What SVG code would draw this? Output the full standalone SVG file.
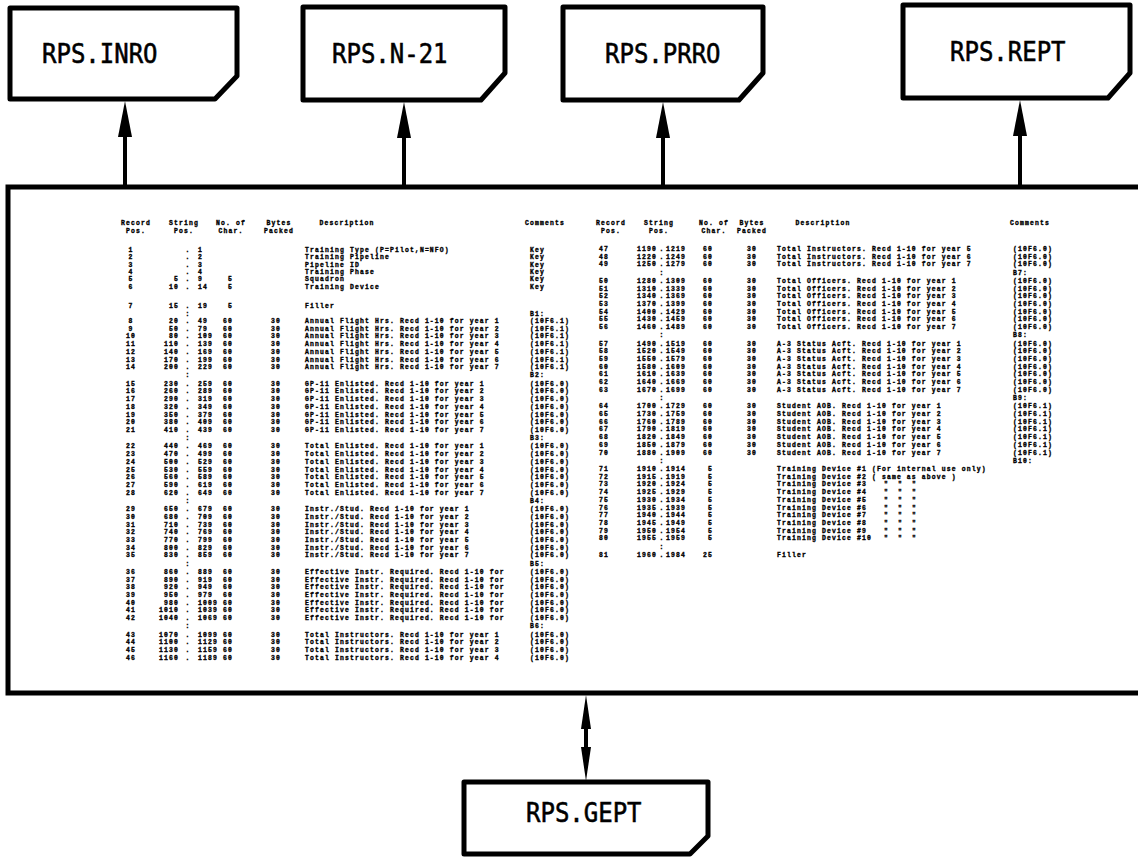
<svg xmlns="http://www.w3.org/2000/svg" width="1138" height="857" viewBox="0 0 1138 857">
<style>
.node path{fill:#fff;stroke:#000;stroke-width:5;stroke-linejoin:round}
.lbl{font-family:"DejaVu Sans Mono","Liberation Mono",monospace;font-size:24px;fill:#000;stroke:#000;stroke-width:0.5}
.frame{fill:none;stroke:#000;stroke-width:5}
.conn line{stroke:#000;stroke-width:4}
.t{font-family:"Liberation Mono","DejaVu Sans Mono",monospace;font-size:6.4px;letter-spacing:1.16px;font-weight:bold;fill:#000;stroke:#000;stroke-width:0.35}
.m{text-anchor:middle}
.e{text-anchor:end}
</style>
<defs>
<marker id="arr" markerUnits="userSpaceOnUse" markerWidth="36" markerHeight="14" refX="0" refY="7" orient="auto" viewBox="0 0 36 14"><path d="M0,0 L36,7 L0,14 Z" fill="#000"/></marker>
<marker id="arr2" markerUnits="userSpaceOnUse" markerWidth="34" markerHeight="10" refX="0" refY="5" orient="auto-start-reverse" viewBox="0 0 34 10"><path d="M0,0 L34,5 L0,10 Z" fill="#000"/></marker>
</defs>
<rect width="1138" height="857" fill="#fff"/>

<g id="table-box">
<path class="frame" d="M1150,187 H8 V693 H1150"/>
<g class="t">
<text y="225"><tspan class="m" x="136">Record</tspan><tspan class="m" x="184">String</tspan><tspan class="m" x="231">No. of</tspan><tspan class="m" x="279">Bytes</tspan><tspan class="m" x="347">Description</tspan><tspan class="m" x="545">Comments</tspan><tspan class="m" x="611">Record</tspan><tspan class="m" x="659">String</tspan><tspan class="m" x="714">No. of</tspan><tspan class="m" x="752">Bytes</tspan><tspan class="m" x="823">Description</tspan><tspan class="m" x="1030">Comments</tspan></text>
<text y="233"><tspan class="m" x="136">Pos.</tspan><tspan class="m" x="184">Pos.</tspan><tspan class="m" x="231">Char.</tspan><tspan class="m" x="279">Packed</tspan><tspan class="m" x="611">Pos.</tspan><tspan class="m" x="659">Pos.</tspan><tspan class="m" x="714">Char.</tspan><tspan class="m" x="752">Packed</tspan></text>
<text y="252"><tspan class="m" x="131">1</tspan><tspan x="185.5">.</tspan><tspan x="198">1</tspan><tspan x="305">Training Type (P=Pilot,N=NFO)</tspan><tspan x="530">Key</tspan></text>
<text y="259.3"><tspan class="m" x="131">2</tspan><tspan x="185.5">.</tspan><tspan x="198">2</tspan><tspan x="305">Training Pipeline</tspan><tspan x="530">Key</tspan></text>
<text y="266.6"><tspan class="m" x="131">3</tspan><tspan x="185.5">.</tspan><tspan x="198">3</tspan><tspan x="305">Pipeline ID</tspan><tspan x="530">Key</tspan></text>
<text y="273.9"><tspan class="m" x="131">4</tspan><tspan x="185.5">.</tspan><tspan x="198">4</tspan><tspan x="305">Training Phase</tspan><tspan x="530">Key</tspan></text>
<text y="281.2"><tspan class="m" x="131">5</tspan><tspan class="e" x="179">5</tspan><tspan x="185.5">.</tspan><tspan x="198">9</tspan><tspan class="e" x="233">5</tspan><tspan x="305">Squadron</tspan><tspan x="530">Key</tspan></text>
<text y="288.5"><tspan class="m" x="131">6</tspan><tspan class="e" x="179">10</tspan><tspan x="185.5">.</tspan><tspan x="198">14</tspan><tspan class="e" x="233">5</tspan><tspan x="305">Training Device</tspan><tspan x="530">Key</tspan></text>
<text y="308"><tspan class="m" x="131">7</tspan><tspan class="e" x="179">15</tspan><tspan x="185.5">.</tspan><tspan x="198">19</tspan><tspan class="e" x="233">5</tspan><tspan x="305">Filler</tspan></text>
<text y="315.5"><tspan x="185.5">:</tspan><tspan x="530">B1:</tspan></text>
<text y="323"><tspan class="m" x="131">8</tspan><tspan class="e" x="179">20</tspan><tspan x="185.5">.</tspan><tspan x="198">49</tspan><tspan class="e" x="233">60</tspan><tspan class="m" x="276">30</tspan><tspan x="305">Annual Flight Hrs. Recd 1-10 for year 1</tspan><tspan x="530">(10F6.1)</tspan></text>
<text y="330.7"><tspan class="m" x="131">9</tspan><tspan class="e" x="179">50</tspan><tspan x="185.5">.</tspan><tspan x="198">79</tspan><tspan class="e" x="233">60</tspan><tspan class="m" x="276">30</tspan><tspan x="305">Annual Flight Hrs. Recd 1-10 for year 2</tspan><tspan x="530">(10F6.1)</tspan></text>
<text y="338.4"><tspan class="m" x="131">10</tspan><tspan class="e" x="179">80</tspan><tspan x="185.5">.</tspan><tspan x="198">109</tspan><tspan class="e" x="233">60</tspan><tspan class="m" x="276">30</tspan><tspan x="305">Annual Flight Hrs. Recd 1-10 for year 3</tspan><tspan x="530">(10F6.1)</tspan></text>
<text y="346.1"><tspan class="m" x="131">11</tspan><tspan class="e" x="179">110</tspan><tspan x="185.5">.</tspan><tspan x="198">139</tspan><tspan class="e" x="233">60</tspan><tspan class="m" x="276">30</tspan><tspan x="305">Annual Flight Hrs. Recd 1-10 for year 4</tspan><tspan x="530">(10F6.1)</tspan></text>
<text y="353.8"><tspan class="m" x="131">12</tspan><tspan class="e" x="179">140</tspan><tspan x="185.5">.</tspan><tspan x="198">169</tspan><tspan class="e" x="233">60</tspan><tspan class="m" x="276">30</tspan><tspan x="305">Annual Flight Hrs. Recd 1-10 for year 5</tspan><tspan x="530">(10F6.1)</tspan></text>
<text y="361.5"><tspan class="m" x="131">13</tspan><tspan class="e" x="179">170</tspan><tspan x="185.5">.</tspan><tspan x="198">199</tspan><tspan class="e" x="233">60</tspan><tspan class="m" x="276">30</tspan><tspan x="305">Annual Flight Hrs. Recd 1-10 for year 6</tspan><tspan x="530">(10F6.1)</tspan></text>
<text y="369.2"><tspan class="m" x="131">14</tspan><tspan class="e" x="179">200</tspan><tspan x="185.5">.</tspan><tspan x="198">229</tspan><tspan class="e" x="233">60</tspan><tspan class="m" x="276">30</tspan><tspan x="305">Annual Flight Hrs. Recd 1-10 for year 7</tspan><tspan x="530">(10F6.1)</tspan></text>
<text y="377.45"><tspan x="185.5">:</tspan><tspan x="530">B2:</tspan></text>
<text y="385.7"><tspan class="m" x="131">15</tspan><tspan class="e" x="179">230</tspan><tspan x="185.5">.</tspan><tspan x="198">259</tspan><tspan class="e" x="233">60</tspan><tspan class="m" x="276">30</tspan><tspan x="305">GP-11 Enlisted. Recd 1-10 for year 1</tspan><tspan x="530">(10F6.0)</tspan></text>
<text y="393.4"><tspan class="m" x="131">16</tspan><tspan class="e" x="179">260</tspan><tspan x="185.5">.</tspan><tspan x="198">289</tspan><tspan class="e" x="233">60</tspan><tspan class="m" x="276">30</tspan><tspan x="305">GP-11 Enlisted. Recd 1-10 for year 2</tspan><tspan x="530">(10F6.0)</tspan></text>
<text y="401.1"><tspan class="m" x="131">17</tspan><tspan class="e" x="179">290</tspan><tspan x="185.5">.</tspan><tspan x="198">319</tspan><tspan class="e" x="233">60</tspan><tspan class="m" x="276">30</tspan><tspan x="305">GP-11 Enlisted. Recd 1-10 for year 3</tspan><tspan x="530">(10F6.0)</tspan></text>
<text y="408.8"><tspan class="m" x="131">18</tspan><tspan class="e" x="179">320</tspan><tspan x="185.5">.</tspan><tspan x="198">349</tspan><tspan class="e" x="233">60</tspan><tspan class="m" x="276">30</tspan><tspan x="305">GP-11 Enlisted. Recd 1-10 for year 4</tspan><tspan x="530">(10F6.0)</tspan></text>
<text y="416.5"><tspan class="m" x="131">19</tspan><tspan class="e" x="179">350</tspan><tspan x="185.5">.</tspan><tspan x="198">379</tspan><tspan class="e" x="233">60</tspan><tspan class="m" x="276">30</tspan><tspan x="305">GP-11 Enlisted. Recd 1-10 for year 5</tspan><tspan x="530">(10F6.0)</tspan></text>
<text y="424.2"><tspan class="m" x="131">20</tspan><tspan class="e" x="179">380</tspan><tspan x="185.5">.</tspan><tspan x="198">409</tspan><tspan class="e" x="233">60</tspan><tspan class="m" x="276">30</tspan><tspan x="305">GP-11 Enlisted. Recd 1-10 for year 6</tspan><tspan x="530">(10F6.0)</tspan></text>
<text y="431.9"><tspan class="m" x="131">21</tspan><tspan class="e" x="179">410</tspan><tspan x="185.5">.</tspan><tspan x="198">439</tspan><tspan class="e" x="233">60</tspan><tspan class="m" x="276">30</tspan><tspan x="305">GP-11 Enlisted. Recd 1-10 for year 7</tspan><tspan x="530">(10F6.0)</tspan></text>
<text y="440.15"><tspan x="185.5">:</tspan><tspan x="530">B3:</tspan></text>
<text y="448.4"><tspan class="m" x="131">22</tspan><tspan class="e" x="179">440</tspan><tspan x="185.5">.</tspan><tspan x="198">469</tspan><tspan class="e" x="233">60</tspan><tspan class="m" x="276">30</tspan><tspan x="305">Total Enlisted. Recd 1-10 for year 1</tspan><tspan x="530">(10F6.0)</tspan></text>
<text y="456.1"><tspan class="m" x="131">23</tspan><tspan class="e" x="179">470</tspan><tspan x="185.5">.</tspan><tspan x="198">499</tspan><tspan class="e" x="233">60</tspan><tspan class="m" x="276">30</tspan><tspan x="305">Total Enlisted. Recd 1-10 for year 2</tspan><tspan x="530">(10F6.0)</tspan></text>
<text y="463.8"><tspan class="m" x="131">24</tspan><tspan class="e" x="179">500</tspan><tspan x="185.5">.</tspan><tspan x="198">529</tspan><tspan class="e" x="233">60</tspan><tspan class="m" x="276">30</tspan><tspan x="305">Total Enlisted. Recd 1-10 for year 3</tspan><tspan x="530">(10F6.0)</tspan></text>
<text y="471.5"><tspan class="m" x="131">25</tspan><tspan class="e" x="179">530</tspan><tspan x="185.5">.</tspan><tspan x="198">559</tspan><tspan class="e" x="233">60</tspan><tspan class="m" x="276">30</tspan><tspan x="305">Total Enlisted. Recd 1-10 for year 4</tspan><tspan x="530">(10F6.0)</tspan></text>
<text y="479.2"><tspan class="m" x="131">26</tspan><tspan class="e" x="179">560</tspan><tspan x="185.5">.</tspan><tspan x="198">589</tspan><tspan class="e" x="233">60</tspan><tspan class="m" x="276">30</tspan><tspan x="305">Total Enlisted. Recd 1-10 for year 5</tspan><tspan x="530">(10F6.0)</tspan></text>
<text y="486.9"><tspan class="m" x="131">27</tspan><tspan class="e" x="179">590</tspan><tspan x="185.5">.</tspan><tspan x="198">619</tspan><tspan class="e" x="233">60</tspan><tspan class="m" x="276">30</tspan><tspan x="305">Total Enlisted. Recd 1-10 for year 6</tspan><tspan x="530">(10F6.0)</tspan></text>
<text y="494.6"><tspan class="m" x="131">28</tspan><tspan class="e" x="179">620</tspan><tspan x="185.5">.</tspan><tspan x="198">649</tspan><tspan class="e" x="233">60</tspan><tspan class="m" x="276">30</tspan><tspan x="305">Total Enlisted. Recd 1-10 for year 7</tspan><tspan x="530">(10F6.0)</tspan></text>
<text y="502.85"><tspan x="185.5">:</tspan><tspan x="530">B4:</tspan></text>
<text y="511.1"><tspan class="m" x="131">29</tspan><tspan class="e" x="179">650</tspan><tspan x="185.5">.</tspan><tspan x="198">679</tspan><tspan class="e" x="233">60</tspan><tspan class="m" x="276">30</tspan><tspan x="305">Instr./Stud. Recd 1-10 for year 1</tspan><tspan x="530">(10F6.0)</tspan></text>
<text y="518.8"><tspan class="m" x="131">30</tspan><tspan class="e" x="179">680</tspan><tspan x="185.5">.</tspan><tspan x="198">709</tspan><tspan class="e" x="233">60</tspan><tspan class="m" x="276">30</tspan><tspan x="305">Instr./Stud. Recd 1-10 for year 2</tspan><tspan x="530">(10F6.0)</tspan></text>
<text y="526.5"><tspan class="m" x="131">31</tspan><tspan class="e" x="179">710</tspan><tspan x="185.5">.</tspan><tspan x="198">739</tspan><tspan class="e" x="233">60</tspan><tspan class="m" x="276">30</tspan><tspan x="305">Instr./Stud. Recd 1-10 for year 3</tspan><tspan x="530">(10F6.0)</tspan></text>
<text y="534.2"><tspan class="m" x="131">32</tspan><tspan class="e" x="179">740</tspan><tspan x="185.5">.</tspan><tspan x="198">769</tspan><tspan class="e" x="233">60</tspan><tspan class="m" x="276">30</tspan><tspan x="305">Instr./Stud. Recd 1-10 for year 4</tspan><tspan x="530">(10F6.0)</tspan></text>
<text y="541.9"><tspan class="m" x="131">33</tspan><tspan class="e" x="179">770</tspan><tspan x="185.5">.</tspan><tspan x="198">799</tspan><tspan class="e" x="233">60</tspan><tspan class="m" x="276">30</tspan><tspan x="305">Instr./Stud. Recd 1-10 for year 5</tspan><tspan x="530">(10F6.0)</tspan></text>
<text y="549.6"><tspan class="m" x="131">34</tspan><tspan class="e" x="179">800</tspan><tspan x="185.5">.</tspan><tspan x="198">829</tspan><tspan class="e" x="233">60</tspan><tspan class="m" x="276">30</tspan><tspan x="305">Instr./Stud. Recd 1-10 for year 6</tspan><tspan x="530">(10F6.0)</tspan></text>
<text y="557.3"><tspan class="m" x="131">35</tspan><tspan class="e" x="179">830</tspan><tspan x="185.5">.</tspan><tspan x="198">859</tspan><tspan class="e" x="233">60</tspan><tspan class="m" x="276">30</tspan><tspan x="305">Instr./Stud. Recd 1-10 for year 7</tspan><tspan x="530">(10F6.0)</tspan></text>
<text y="565.55"><tspan x="185.5">:</tspan><tspan x="530">B5:</tspan></text>
<text y="573.8"><tspan class="m" x="131">36</tspan><tspan class="e" x="179">860</tspan><tspan x="185.5">.</tspan><tspan x="198">889</tspan><tspan class="e" x="233">60</tspan><tspan class="m" x="276">30</tspan><tspan x="305">Effective Instr. Required. Recd 1-10 for</tspan><tspan x="530">(10F6.0)</tspan></text>
<text y="581.5"><tspan class="m" x="131">37</tspan><tspan class="e" x="179">890</tspan><tspan x="185.5">.</tspan><tspan x="198">919</tspan><tspan class="e" x="233">60</tspan><tspan class="m" x="276">30</tspan><tspan x="305">Effective Instr. Required. Recd 1-10 for</tspan><tspan x="530">(10F6.0)</tspan></text>
<text y="589.2"><tspan class="m" x="131">38</tspan><tspan class="e" x="179">920</tspan><tspan x="185.5">.</tspan><tspan x="198">949</tspan><tspan class="e" x="233">60</tspan><tspan class="m" x="276">30</tspan><tspan x="305">Effective Instr. Required. Recd 1-10 for</tspan><tspan x="530">(10F6.0)</tspan></text>
<text y="596.9"><tspan class="m" x="131">39</tspan><tspan class="e" x="179">950</tspan><tspan x="185.5">.</tspan><tspan x="198">979</tspan><tspan class="e" x="233">60</tspan><tspan class="m" x="276">30</tspan><tspan x="305">Effective Instr. Required. Recd 1-10 for</tspan><tspan x="530">(10F6.0)</tspan></text>
<text y="604.6"><tspan class="m" x="131">40</tspan><tspan class="e" x="179">980</tspan><tspan x="185.5">.</tspan><tspan x="198">1009</tspan><tspan class="e" x="233">60</tspan><tspan class="m" x="276">30</tspan><tspan x="305">Effective Instr. Required. Recd 1-10 for</tspan><tspan x="530">(10F6.0)</tspan></text>
<text y="612.3"><tspan class="m" x="131">41</tspan><tspan class="e" x="179">1010</tspan><tspan x="185.5">.</tspan><tspan x="198">1039</tspan><tspan class="e" x="233">60</tspan><tspan class="m" x="276">30</tspan><tspan x="305">Effective Instr. Required. Recd 1-10 for</tspan><tspan x="530">(10F6.0)</tspan></text>
<text y="620"><tspan class="m" x="131">42</tspan><tspan class="e" x="179">1040</tspan><tspan x="185.5">.</tspan><tspan x="198">1069</tspan><tspan class="e" x="233">60</tspan><tspan class="m" x="276">30</tspan><tspan x="305">Effective Instr. Required. Recd 1-10 for</tspan><tspan x="530">(10F6.0)</tspan></text>
<text y="628.25"><tspan x="185.5">:</tspan><tspan x="530">B6:</tspan></text>
<text y="636.5"><tspan class="m" x="131">43</tspan><tspan class="e" x="179">1070</tspan><tspan x="185.5">.</tspan><tspan x="198">1099</tspan><tspan class="e" x="233">60</tspan><tspan class="m" x="276">30</tspan><tspan x="305">Total Instructors. Recd 1-10 for year 1</tspan><tspan x="530">(10F6.0)</tspan></text>
<text y="644.2"><tspan class="m" x="131">44</tspan><tspan class="e" x="179">1100</tspan><tspan x="185.5">.</tspan><tspan x="198">1129</tspan><tspan class="e" x="233">60</tspan><tspan class="m" x="276">30</tspan><tspan x="305">Total Instructors. Recd 1-10 for year 2</tspan><tspan x="530">(10F6.0)</tspan></text>
<text y="651.9"><tspan class="m" x="131">45</tspan><tspan class="e" x="179">1130</tspan><tspan x="185.5">.</tspan><tspan x="198">1159</tspan><tspan class="e" x="233">60</tspan><tspan class="m" x="276">30</tspan><tspan x="305">Total Instructors. Recd 1-10 for year 3</tspan><tspan x="530">(10F6.0)</tspan></text>
<text y="659.6"><tspan class="m" x="131">46</tspan><tspan class="e" x="179">1160</tspan><tspan x="185.5">.</tspan><tspan x="198">1189</tspan><tspan class="e" x="233">60</tspan><tspan class="m" x="276">30</tspan><tspan x="305">Total Instructors. Recd 1-10 for year 4</tspan><tspan x="530">(10F6.0)</tspan></text>
<text y="251"><tspan class="m" x="604">47</tspan><tspan class="e" x="657">1190</tspan><tspan x="659.5">.</tspan><tspan x="666">1219</tspan><tspan class="e" x="713">60</tspan><tspan class="m" x="752">30</tspan><tspan x="777">Total Instructors. Recd 1-10 for year 5</tspan><tspan x="1013">(10F6.0)</tspan></text>
<text y="258.7"><tspan class="m" x="604">48</tspan><tspan class="e" x="657">1220</tspan><tspan x="659.5">.</tspan><tspan x="666">1249</tspan><tspan class="e" x="713">60</tspan><tspan class="m" x="752">30</tspan><tspan x="777">Total Instructors. Recd 1-10 for year 6</tspan><tspan x="1013">(10F6.0)</tspan></text>
<text y="266.4"><tspan class="m" x="604">49</tspan><tspan class="e" x="657">1250</tspan><tspan x="659.5">.</tspan><tspan x="666">1279</tspan><tspan class="e" x="713">60</tspan><tspan class="m" x="752">30</tspan><tspan x="777">Total Instructors. Recd 1-10 for year 7</tspan><tspan x="1013">(10F6.0)</tspan></text>
<text y="274.65"><tspan x="659.5">:</tspan><tspan x="1013">B7:</tspan></text>
<text y="282.9"><tspan class="m" x="604">50</tspan><tspan class="e" x="657">1280</tspan><tspan x="659.5">.</tspan><tspan x="666">1309</tspan><tspan class="e" x="713">60</tspan><tspan class="m" x="752">30</tspan><tspan x="777">Total Officers. Recd 1-10 for year 1</tspan><tspan x="1013">(10F6.0)</tspan></text>
<text y="290.6"><tspan class="m" x="604">51</tspan><tspan class="e" x="657">1310</tspan><tspan x="659.5">.</tspan><tspan x="666">1339</tspan><tspan class="e" x="713">60</tspan><tspan class="m" x="752">30</tspan><tspan x="777">Total Officers. Recd 1-10 for year 2</tspan><tspan x="1013">(10F6.0)</tspan></text>
<text y="298.3"><tspan class="m" x="604">52</tspan><tspan class="e" x="657">1340</tspan><tspan x="659.5">.</tspan><tspan x="666">1369</tspan><tspan class="e" x="713">60</tspan><tspan class="m" x="752">30</tspan><tspan x="777">Total Officers. Recd 1-10 for year 3</tspan><tspan x="1013">(10F6.0)</tspan></text>
<text y="306"><tspan class="m" x="604">53</tspan><tspan class="e" x="657">1370</tspan><tspan x="659.5">.</tspan><tspan x="666">1399</tspan><tspan class="e" x="713">60</tspan><tspan class="m" x="752">30</tspan><tspan x="777">Total Officers. Recd 1-10 for year 4</tspan><tspan x="1013">(10F6.0)</tspan></text>
<text y="313.7"><tspan class="m" x="604">54</tspan><tspan class="e" x="657">1400</tspan><tspan x="659.5">.</tspan><tspan x="666">1429</tspan><tspan class="e" x="713">60</tspan><tspan class="m" x="752">30</tspan><tspan x="777">Total Officers. Recd 1-10 for year 5</tspan><tspan x="1013">(10F6.0)</tspan></text>
<text y="321.4"><tspan class="m" x="604">55</tspan><tspan class="e" x="657">1430</tspan><tspan x="659.5">.</tspan><tspan x="666">1459</tspan><tspan class="e" x="713">60</tspan><tspan class="m" x="752">30</tspan><tspan x="777">Total Officers. Recd 1-10 for year 6</tspan><tspan x="1013">(10F6.0)</tspan></text>
<text y="329.1"><tspan class="m" x="604">56</tspan><tspan class="e" x="657">1460</tspan><tspan x="659.5">.</tspan><tspan x="666">1489</tspan><tspan class="e" x="713">60</tspan><tspan class="m" x="752">30</tspan><tspan x="777">Total Officers. Recd 1-10 for year 7</tspan><tspan x="1013">(10F6.0)</tspan></text>
<text y="337.35"><tspan x="659.5">:</tspan><tspan x="1013">B8:</tspan></text>
<text y="345.6"><tspan class="m" x="604">57</tspan><tspan class="e" x="657">1490</tspan><tspan x="659.5">.</tspan><tspan x="666">1519</tspan><tspan class="e" x="713">60</tspan><tspan class="m" x="752">30</tspan><tspan x="777">A-3 Status Acft. Recd 1-10 for year 1</tspan><tspan x="1013">(10F6.0)</tspan></text>
<text y="353.3"><tspan class="m" x="604">58</tspan><tspan class="e" x="657">1520</tspan><tspan x="659.5">.</tspan><tspan x="666">1549</tspan><tspan class="e" x="713">60</tspan><tspan class="m" x="752">30</tspan><tspan x="777">A-3 Status Acft. Recd 1-10 for year 2</tspan><tspan x="1013">(10F6.0)</tspan></text>
<text y="361"><tspan class="m" x="604">59</tspan><tspan class="e" x="657">1550</tspan><tspan x="659.5">.</tspan><tspan x="666">1579</tspan><tspan class="e" x="713">60</tspan><tspan class="m" x="752">30</tspan><tspan x="777">A-3 Status Acft. Recd 1-10 for year 3</tspan><tspan x="1013">(10F6.0)</tspan></text>
<text y="368.7"><tspan class="m" x="604">60</tspan><tspan class="e" x="657">1580</tspan><tspan x="659.5">.</tspan><tspan x="666">1609</tspan><tspan class="e" x="713">60</tspan><tspan class="m" x="752">30</tspan><tspan x="777">A-3 Status Acft. Recd 1-10 for year 4</tspan><tspan x="1013">(10F6.0)</tspan></text>
<text y="376.4"><tspan class="m" x="604">61</tspan><tspan class="e" x="657">1610</tspan><tspan x="659.5">.</tspan><tspan x="666">1639</tspan><tspan class="e" x="713">60</tspan><tspan class="m" x="752">30</tspan><tspan x="777">A-3 Status Acft. Recd 1-10 for year 5</tspan><tspan x="1013">(10F6.0)</tspan></text>
<text y="384.1"><tspan class="m" x="604">62</tspan><tspan class="e" x="657">1640</tspan><tspan x="659.5">.</tspan><tspan x="666">1669</tspan><tspan class="e" x="713">60</tspan><tspan class="m" x="752">30</tspan><tspan x="777">A-3 Status Acft. Recd 1-10 for year 6</tspan><tspan x="1013">(10F6.0)</tspan></text>
<text y="391.8"><tspan class="m" x="604">63</tspan><tspan class="e" x="657">1670</tspan><tspan x="659.5">.</tspan><tspan x="666">1699</tspan><tspan class="e" x="713">60</tspan><tspan class="m" x="752">30</tspan><tspan x="777">A-3 Status Acft. Recd 1-10 for year 7</tspan><tspan x="1013">(10F6.0)</tspan></text>
<text y="400.05"><tspan x="659.5">:</tspan><tspan x="1013">B9:</tspan></text>
<text y="408.3"><tspan class="m" x="604">64</tspan><tspan class="e" x="657">1700</tspan><tspan x="659.5">.</tspan><tspan x="666">1729</tspan><tspan class="e" x="713">60</tspan><tspan class="m" x="752">30</tspan><tspan x="777">Student AOB. Recd 1-10 for year 1</tspan><tspan x="1013">(10F6.1)</tspan></text>
<text y="416"><tspan class="m" x="604">65</tspan><tspan class="e" x="657">1730</tspan><tspan x="659.5">.</tspan><tspan x="666">1759</tspan><tspan class="e" x="713">60</tspan><tspan class="m" x="752">30</tspan><tspan x="777">Student AOB. Recd 1-10 for year 2</tspan><tspan x="1013">(10F6.1)</tspan></text>
<text y="423.7"><tspan class="m" x="604">66</tspan><tspan class="e" x="657">1760</tspan><tspan x="659.5">.</tspan><tspan x="666">1789</tspan><tspan class="e" x="713">60</tspan><tspan class="m" x="752">30</tspan><tspan x="777">Student AOB. Recd 1-10 for year 3</tspan><tspan x="1013">(10F6.1)</tspan></text>
<text y="431.4"><tspan class="m" x="604">67</tspan><tspan class="e" x="657">1790</tspan><tspan x="659.5">.</tspan><tspan x="666">1819</tspan><tspan class="e" x="713">60</tspan><tspan class="m" x="752">30</tspan><tspan x="777">Student AOB. Recd 1-10 for year 4</tspan><tspan x="1013">(10F6.1)</tspan></text>
<text y="439.1"><tspan class="m" x="604">68</tspan><tspan class="e" x="657">1820</tspan><tspan x="659.5">.</tspan><tspan x="666">1849</tspan><tspan class="e" x="713">60</tspan><tspan class="m" x="752">30</tspan><tspan x="777">Student AOB. Recd 1-10 for year 5</tspan><tspan x="1013">(10F6.1)</tspan></text>
<text y="446.8"><tspan class="m" x="604">69</tspan><tspan class="e" x="657">1850</tspan><tspan x="659.5">.</tspan><tspan x="666">1879</tspan><tspan class="e" x="713">60</tspan><tspan class="m" x="752">30</tspan><tspan x="777">Student AOB. Recd 1-10 for year 6</tspan><tspan x="1013">(10F6.1)</tspan></text>
<text y="454.5"><tspan class="m" x="604">70</tspan><tspan class="e" x="657">1880</tspan><tspan x="659.5">.</tspan><tspan x="666">1909</tspan><tspan class="e" x="713">60</tspan><tspan class="m" x="752">30</tspan><tspan x="777">Student AOB. Recd 1-10 for year 7</tspan><tspan x="1013">(10F6.1)</tspan></text>
<text y="462.75"><tspan x="659.5">:</tspan><tspan x="1013">B10:</tspan></text>
<text y="471"><tspan class="m" x="604">71</tspan><tspan class="e" x="657">1910</tspan><tspan x="659.5">.</tspan><tspan x="666">1914</tspan><tspan class="e" x="713">5</tspan><tspan x="777">Training Device #1 (For internal use only)</tspan></text>
<text y="478.7"><tspan class="m" x="604">72</tspan><tspan class="e" x="657">1915</tspan><tspan x="659.5">.</tspan><tspan x="666">1919</tspan><tspan class="e" x="713">5</tspan><tspan x="777">Training Device #2 (  same as above  )</tspan></text>
<text y="486.4"><tspan class="m" x="604">73</tspan><tspan class="e" x="657">1920</tspan><tspan x="659.5">.</tspan><tspan x="666">1924</tspan><tspan class="e" x="713">5</tspan><tspan x="777">Training Device #3</tspan><tspan x="884">"</tspan><tspan x="898">"</tspan><tspan x="912">"</tspan></text>
<text y="494.1"><tspan class="m" x="604">74</tspan><tspan class="e" x="657">1925</tspan><tspan x="659.5">.</tspan><tspan x="666">1929</tspan><tspan class="e" x="713">5</tspan><tspan x="777">Training Device #4</tspan><tspan x="884">"</tspan><tspan x="898">"</tspan><tspan x="912">"</tspan></text>
<text y="501.8"><tspan class="m" x="604">75</tspan><tspan class="e" x="657">1930</tspan><tspan x="659.5">.</tspan><tspan x="666">1934</tspan><tspan class="e" x="713">5</tspan><tspan x="777">Training Device #5</tspan><tspan x="884">"</tspan><tspan x="898">"</tspan><tspan x="912">"</tspan></text>
<text y="509.5"><tspan class="m" x="604">76</tspan><tspan class="e" x="657">1935</tspan><tspan x="659.5">.</tspan><tspan x="666">1939</tspan><tspan class="e" x="713">5</tspan><tspan x="777">Training Device #6</tspan><tspan x="884">"</tspan><tspan x="898">"</tspan><tspan x="912">"</tspan></text>
<text y="517.2"><tspan class="m" x="604">77</tspan><tspan class="e" x="657">1940</tspan><tspan x="659.5">.</tspan><tspan x="666">1944</tspan><tspan class="e" x="713">5</tspan><tspan x="777">Training Device #7</tspan><tspan x="884">"</tspan><tspan x="898">"</tspan><tspan x="912">"</tspan></text>
<text y="524.9"><tspan class="m" x="604">78</tspan><tspan class="e" x="657">1945</tspan><tspan x="659.5">.</tspan><tspan x="666">1949</tspan><tspan class="e" x="713">5</tspan><tspan x="777">Training Device #8</tspan><tspan x="884">"</tspan><tspan x="898">"</tspan><tspan x="912">"</tspan></text>
<text y="532.6"><tspan class="m" x="604">79</tspan><tspan class="e" x="657">1950</tspan><tspan x="659.5">.</tspan><tspan x="666">1954</tspan><tspan class="e" x="713">5</tspan><tspan x="777">Training Device #9</tspan><tspan x="884">"</tspan><tspan x="898">"</tspan><tspan x="912">"</tspan></text>
<text y="540.3"><tspan class="m" x="604">80</tspan><tspan class="e" x="657">1955</tspan><tspan x="659.5">.</tspan><tspan x="666">1959</tspan><tspan class="e" x="713">5</tspan><tspan x="777">Training Device #10</tspan><tspan x="884">"</tspan><tspan x="898">"</tspan><tspan x="912">"</tspan></text>
<text y="548.55"><tspan x="659.5">:</tspan></text>
<text y="556.8"><tspan class="m" x="604">81</tspan><tspan class="e" x="657">1960</tspan><tspan x="659.5">.</tspan><tspan x="666">1984</tspan><tspan class="e" x="713">25</tspan><tspan x="777">Filler</tspan></text>
</g>
</g>

<g id="node-inro" class="node"><path d="M10,8 H237 V76 L215,99 H10 Z"/><text class="lbl" transform="translate(42,63) scale(1,1.14)">RPS.INRO</text></g>
<g id="node-n21" class="node"><path d="M303,7 H505 V73 L481,100 H303 Z"/><text class="lbl" transform="translate(332,63) scale(1,1.14)">RPS.N-21</text></g>
<g id="node-prro" class="node"><path d="M563,7 H763 V73 L739,100 H563 Z"/><text class="lbl" transform="translate(605,63) scale(1,1.14)">RPS.PRRO</text></g>
<g id="node-rept" class="node"><path d="M903,5 H1130 V73 L1108,98 H903 Z"/><text class="lbl" transform="translate(950,61) scale(1,1.14)">RPS.REPT</text></g>
<g id="node-gept" class="node"><path d="M464,782 H708 V836 L690,854 H464 Z"/><text class="lbl" transform="translate(526,822) scale(1,1.14)">RPS.GEPT</text></g>

<g id="connectors" class="conn">
<line x1="125" y1="186" x2="125" y2="137" marker-end="url(#arr)"/>
<line x1="404" y1="186" x2="404" y2="138" marker-end="url(#arr)"/>
<line x1="663" y1="186" x2="663" y2="138" marker-end="url(#arr)"/>
<line x1="1020" y1="186" x2="1020" y2="136" marker-end="url(#arr)"/>
<line x1="586" y1="729" x2="586" y2="747" marker-start="url(#arr2)" marker-end="url(#arr2)"/>
</g>
</svg>
